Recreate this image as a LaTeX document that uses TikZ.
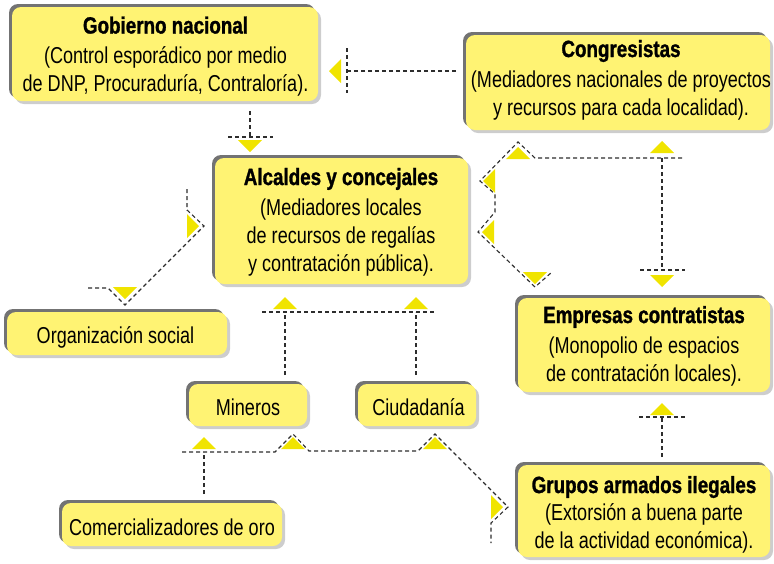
\documentclass[tikz,border=0pt]{standalone}
\usepackage{fontspec}
\setmainfont{Liberation Sans}[FakeStretch=0.785]
\newfontfamily\ttlfam{Liberation Sans}[FakeStretch=0.80, BoldFeatures={FakeBold=1.2}]
\usetikzlibrary{shadows}
\definecolor{boxyel}{RGB}{255,243,115}
\definecolor{triyel}{RGB}{240,228,0}
\definecolor{shdark}{RGB}{115,115,115}
\definecolor{shlight}{RGB}{205,205,205}
\definecolor{lineg}{RGB}{45,45,45}
\newcommand{\ttlfont}{\ttlfam\fontsize{23.5}{30}\selectfont\bfseries}
\tikzset{
  box/.style={rounded corners=9pt, fill=boxyel, inner sep=0pt,
    general shadow={fill=shlight, shadow xshift=3pt, shadow yshift=-3pt},
    general shadow={fill=shdark, shadow xshift=-3pt, shadow yshift=3pt}},
  txt/.style={inner sep=0pt, align=center, font=\fontsize{23}{28}\selectfont},
  conn/.style={draw=lineg, line width=1.1pt, dash pattern=on 4pt off 3pt},
  tridown/.pic={\fill[triyel] (0,0) -- (-12,-12) -- (12,-12) -- cycle;},
  triup/.pic={\fill[triyel] (0,0) -- (-12,12) -- (12,12) -- cycle;},
  trileft/.pic={\fill[triyel] (0,0) -- (12,-12) -- (12,12) -- cycle;},
  triright/.pic={\fill[triyel] (0,0) -- (-12,-12) -- (-12,12) -- cycle;},
}
\begin{document}
\begin{tikzpicture}[x=1pt, y=-1pt]
\useasboundingbox (0,0) rectangle (774,563);

% boxes
\node[box, minimum width=306pt, minimum height=94pt] (gob) at (165,54) {};
\node[box, minimum width=304pt, minimum height=95pt] (cong) at (618,82.5) {};
\node[box, minimum width=253pt, minimum height=126pt] (alc) at (341.5,221) {};
\node[box, minimum width=252pt, minimum height=94pt] (emp) at (644,345) {};
\node[box, minimum width=252pt, minimum height=92pt] (gru) at (644,511) {};
\node[box, minimum width=220pt, minimum height=43pt] (org) at (117,333.5) {};
\node[box, minimum width=118pt, minimum height=42pt] (min) at (248,405) {};
\node[box, minimum width=118pt, minimum height=42pt] (ciu) at (417,405) {};
\node[box, minimum width=220pt, minimum height=43pt] (com) at (172,524.5) {};

% texts
\node[txt] (gobT) at (165.5,56.4)
  {{\ttlfont Gobierno nacional}\\[2pt](Control esporádico por medio\\de DNP, Procuraduría, Contraloría).};
\node[txt] (congT) at (621,79.9)
  {{\ttlfont Congresistas}\\[2pt](Mediadores nacionales de proyectos\\y recursos para cada localidad).};
\node[txt] (alcT) at (341,221.9)
  {{\ttlfont Alcaldes y concejales}\\[2pt](Mediadores locales\\de recursos de regalías\\y contratación pública).};
\node[txt] (empT) at (644,345.9)
  {{\ttlfont Empresas contratistas}\\[2pt](Monopolio de espacios\\de contratación locales).};
\node[txt] (gruT) at (644,514.4)
  {{\ttlfont Grupos armados ilegales}\\[-1pt](Extorsión a buena parte\\de la actividad económica).};
\node[txt, anchor=base] (orgT) at (115.5,343) {Organización social};
\node[txt, anchor=base] (minT) at (248,415) {Mineros};
\node[txt, anchor=base] (ciuT) at (418.5,415) {Ciudadanía};
\node[txt, anchor=base] (comT) at (172,535) {Comercializadores de oro};

% connector end points
\coordinate (c1a) at (456,71);  \coordinate (c1b) at (347,71);
\coordinate (c2a) at (250,111); \coordinate (c2b) at (250,137);
\coordinate (c5a) at (662,158); \coordinate (c5b) at (662,270);
\coordinate (c6a) at (285,375); \coordinate (c6b) at (285,312);
\coordinate (c6c) at (416,375); \coordinate (c6d) at (416,312);
\coordinate (c7a) at (204,494); \coordinate (c7b) at (204,452);
\coordinate (c8a) at (662,457); \coordinate (c8b) at (662,417);

% Congresistas -> Gobierno
\draw[conn] (c1a) -- (c1b);
\draw[conn] (347,48) -- (347,93);
\pic at (329,71) {trileft};

% Gobierno -> Alcaldes
\draw[conn] (c2a) -- (c2b);
\draw[conn] (228,137) -- (273,137);
\pic at (250,152) {tridown};

% Alcaldes <-> Organizacion social
\draw[conn] (187,189) -- (187,210) -- (204,226) -- (125,305) -- (108,288) -- (87,288);
\pic at (199,226) {triright};
\pic at (125,299) {tridown};

% Congresistas / Alcaldes / Empresas
\draw[conn] (682,158) -- (535,158) -- (518,142) -- (480,181) -- (495,194) -- (495,212)
  -- (478,232) -- (535,287) -- (552,272);
\pic at (518,147) {triup};
\pic at (483,181) {trileft};
\pic at (482,232) {trileft};
\pic at (535,284) {tridown};

% Congresistas <-> Empresas
\draw[conn] (c5a) -- (c5b);
\draw[conn] (640,270) -- (685,270);
\pic at (662,141) {triup};
\pic at (662,287) {tridown};

% Mineros, Ciudadania -> Alcaldes
\draw[conn] (c6a) -- (c6b);
\draw[conn] (c6c) -- (c6d);
\draw[conn] (262,312) -- (435,312);
\pic at (285,297) {triup};
\pic at (416,297) {triup};

% Comercializadores / Mineros / Ciudadania / Grupos
\draw[conn] (c7a) -- (c7b);
\draw[conn] (182,452) -- (275,452) -- (293,434) -- (309,451) -- (418,451) -- (435,434)
  -- (508,507) -- (491,523) -- (491,543);
\pic at (204,437) {triup};
\pic at (293,437) {triup};
\pic at (435,437) {triup};
\pic at (503,507) {triright};

% Grupos -> Empresas
\draw[conn] (c8a) -- (c8b);
\draw[conn] (639,417) -- (685,417);
\pic at (662,403) {triup};
\end{tikzpicture}
\end{document}
